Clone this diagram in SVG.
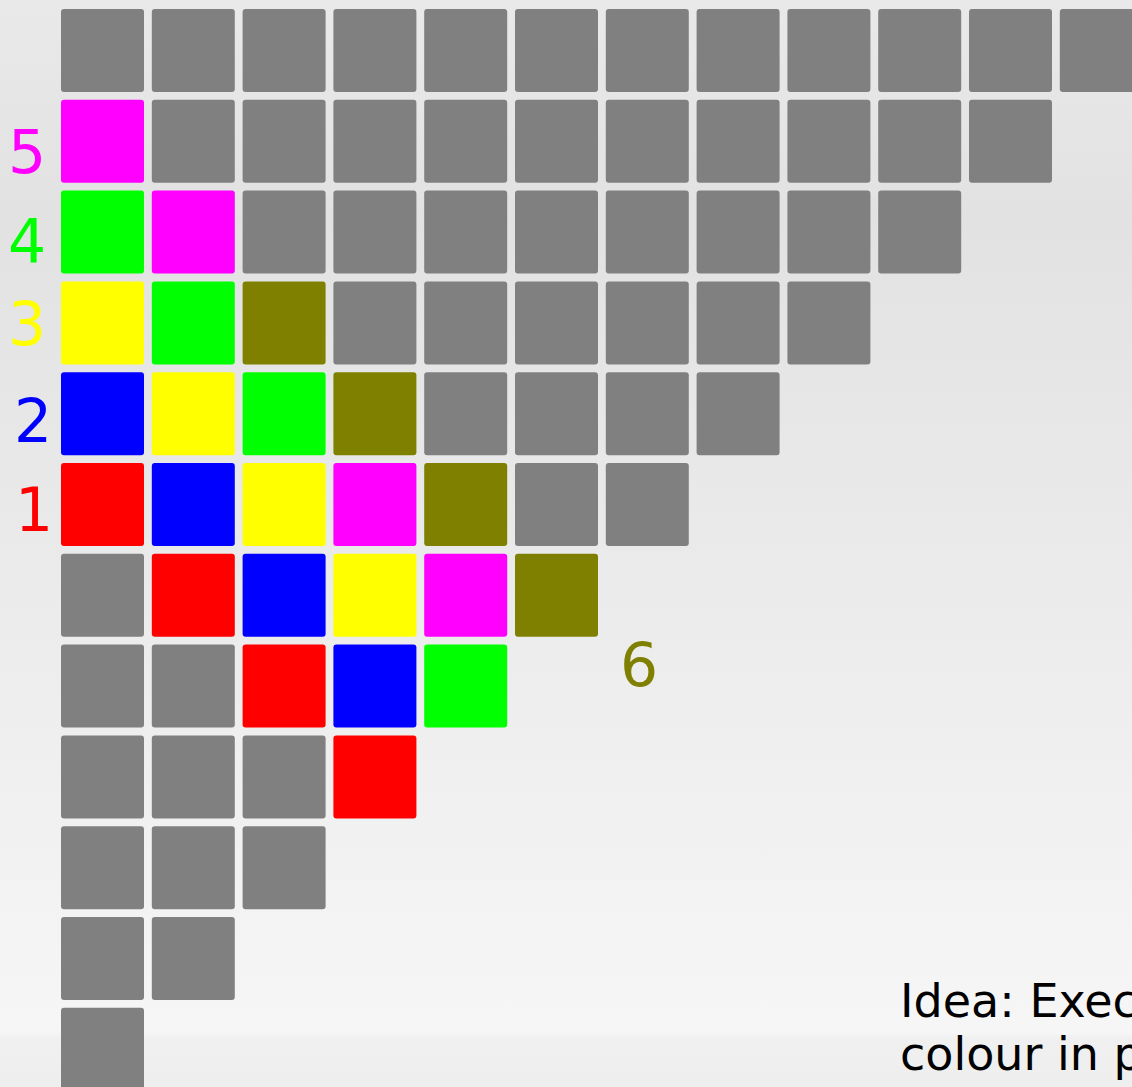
<svg xmlns="http://www.w3.org/2000/svg" width="1132" height="1087" viewBox="0 0 1132 1087">
<defs>
<linearGradient id="bg" x1="0" y1="0" x2="0" y2="1">
<stop offset="0" stop-color="#e9e9e9"/>
<stop offset="0.2" stop-color="#e2e2e2"/>
<stop offset="0.95" stop-color="#f6f6f6"/>
<stop offset="0.955" stop-color="#f0f0f0"/>
<stop offset="1" stop-color="#eeeeee"/>
</linearGradient>
<style>
rect.c{width:83px;height:83px}
.g{fill:#808080}.m{fill:#ff00ff}.n{fill:#00ff00}.y{fill:#ffff00}.o{fill:#808000}.b{fill:#0000ff}.r{fill:#ff0000}
text{font-family:"DejaVu Sans","Liberation Sans",sans-serif}
.lab{font-size:60px;text-anchor:middle}
.note{font-size:46px;fill:#000}
</style>
</defs>
<rect width="1132" height="1087" fill="url(#bg)"/>
<g id="grid">
<!-- row 0 -->
<g id="row0">
<rect class="c g" x="61" y="9" width="83" height="83" rx="3"/>
<rect class="c g" x="151.8" y="9" width="83" height="83" rx="3"/>
<rect class="c g" x="242.6" y="9" width="83" height="83" rx="3"/>
<rect class="c g" x="333.4" y="9" width="83" height="83" rx="3"/>
<rect class="c g" x="424.2" y="9" width="83" height="83" rx="3"/>
<rect class="c g" x="515" y="9" width="83" height="83" rx="3"/>
<rect class="c g" x="605.8" y="9" width="83" height="83" rx="3"/>
<rect class="c g" x="696.6" y="9" width="83" height="83" rx="3"/>
<rect class="c g" x="787.4" y="9" width="83" height="83" rx="3"/>
<rect class="c g" x="878.2" y="9" width="83" height="83" rx="3"/>
<rect class="c g" x="969" y="9" width="83" height="83" rx="3"/>
<rect class="c g" x="1059.8" y="9" width="83" height="83" rx="3"/>
</g>
<g id="row1">
<rect class="c m" x="61" y="99.8" width="83" height="83" rx="3"/>
<rect class="c g" x="151.8" y="99.8" width="83" height="83" rx="3"/>
<rect class="c g" x="242.6" y="99.8" width="83" height="83" rx="3"/>
<rect class="c g" x="333.4" y="99.8" width="83" height="83" rx="3"/>
<rect class="c g" x="424.2" y="99.8" width="83" height="83" rx="3"/>
<rect class="c g" x="515" y="99.8" width="83" height="83" rx="3"/>
<rect class="c g" x="605.8" y="99.8" width="83" height="83" rx="3"/>
<rect class="c g" x="696.6" y="99.8" width="83" height="83" rx="3"/>
<rect class="c g" x="787.4" y="99.8" width="83" height="83" rx="3"/>
<rect class="c g" x="878.2" y="99.8" width="83" height="83" rx="3"/>
<rect class="c g" x="969" y="99.8" width="83" height="83" rx="3"/>
</g>
<g id="row2">
<rect class="c n" x="61" y="190.6" width="83" height="83" rx="3"/>
<rect class="c m" x="151.8" y="190.6" width="83" height="83" rx="3"/>
<rect class="c g" x="242.6" y="190.6" width="83" height="83" rx="3"/>
<rect class="c g" x="333.4" y="190.6" width="83" height="83" rx="3"/>
<rect class="c g" x="424.2" y="190.6" width="83" height="83" rx="3"/>
<rect class="c g" x="515" y="190.6" width="83" height="83" rx="3"/>
<rect class="c g" x="605.8" y="190.6" width="83" height="83" rx="3"/>
<rect class="c g" x="696.6" y="190.6" width="83" height="83" rx="3"/>
<rect class="c g" x="787.4" y="190.6" width="83" height="83" rx="3"/>
<rect class="c g" x="878.2" y="190.6" width="83" height="83" rx="3"/>
</g>
<g id="row3">
<rect class="c y" x="61" y="281.4" width="83" height="83" rx="3"/>
<rect class="c n" x="151.8" y="281.4" width="83" height="83" rx="3"/>
<rect class="c o" x="242.6" y="281.4" width="83" height="83" rx="3"/>
<rect class="c g" x="333.4" y="281.4" width="83" height="83" rx="3"/>
<rect class="c g" x="424.2" y="281.4" width="83" height="83" rx="3"/>
<rect class="c g" x="515" y="281.4" width="83" height="83" rx="3"/>
<rect class="c g" x="605.8" y="281.4" width="83" height="83" rx="3"/>
<rect class="c g" x="696.6" y="281.4" width="83" height="83" rx="3"/>
<rect class="c g" x="787.4" y="281.4" width="83" height="83" rx="3"/>
</g>
<g id="row4">
<rect class="c b" x="61" y="372.2" width="83" height="83" rx="3"/>
<rect class="c y" x="151.8" y="372.2" width="83" height="83" rx="3"/>
<rect class="c n" x="242.6" y="372.2" width="83" height="83" rx="3"/>
<rect class="c o" x="333.4" y="372.2" width="83" height="83" rx="3"/>
<rect class="c g" x="424.2" y="372.2" width="83" height="83" rx="3"/>
<rect class="c g" x="515" y="372.2" width="83" height="83" rx="3"/>
<rect class="c g" x="605.8" y="372.2" width="83" height="83" rx="3"/>
<rect class="c g" x="696.6" y="372.2" width="83" height="83" rx="3"/>
</g>
<g id="row5">
<rect class="c r" x="61" y="463" width="83" height="83" rx="3"/>
<rect class="c b" x="151.8" y="463" width="83" height="83" rx="3"/>
<rect class="c y" x="242.6" y="463" width="83" height="83" rx="3"/>
<rect class="c m" x="333.4" y="463" width="83" height="83" rx="3"/>
<rect class="c o" x="424.2" y="463" width="83" height="83" rx="3"/>
<rect class="c g" x="515" y="463" width="83" height="83" rx="3"/>
<rect class="c g" x="605.8" y="463" width="83" height="83" rx="3"/>
</g>
<g id="row6">
<rect class="c g" x="61" y="553.8" width="83" height="83" rx="3"/>
<rect class="c r" x="151.8" y="553.8" width="83" height="83" rx="3"/>
<rect class="c b" x="242.6" y="553.8" width="83" height="83" rx="3"/>
<rect class="c y" x="333.4" y="553.8" width="83" height="83" rx="3"/>
<rect class="c m" x="424.2" y="553.8" width="83" height="83" rx="3"/>
<rect class="c o" x="515" y="553.8" width="83" height="83" rx="3"/>
</g>
<g id="row7">
<rect class="c g" x="61" y="644.6" width="83" height="83" rx="3"/>
<rect class="c g" x="151.8" y="644.6" width="83" height="83" rx="3"/>
<rect class="c r" x="242.6" y="644.6" width="83" height="83" rx="3"/>
<rect class="c b" x="333.4" y="644.6" width="83" height="83" rx="3"/>
<rect class="c n" x="424.2" y="644.6" width="83" height="83" rx="3"/>
</g>
<g id="row8">
<rect class="c g" x="61" y="735.4" width="83" height="83" rx="3"/>
<rect class="c g" x="151.8" y="735.4" width="83" height="83" rx="3"/>
<rect class="c g" x="242.6" y="735.4" width="83" height="83" rx="3"/>
<rect class="c r" x="333.4" y="735.4" width="83" height="83" rx="3"/>
</g>
<g id="row9">
<rect class="c g" x="61" y="826.2" width="83" height="83" rx="3"/>
<rect class="c g" x="151.8" y="826.2" width="83" height="83" rx="3"/>
<rect class="c g" x="242.6" y="826.2" width="83" height="83" rx="3"/>
</g>
<g id="row10">
<rect class="c g" x="61" y="917" width="83" height="83" rx="3"/>
<rect class="c g" x="151.8" y="917" width="83" height="83" rx="3"/>
</g>
<g id="row11">
<rect class="c g" x="61" y="1007.8" width="83" height="83" rx="3"/>
</g>
</g>
<g id="labels">
<text class="lab" x="27" y="173" fill="#ff00ff">5</text>
<text class="lab" x="27" y="262" fill="#00ff00">4</text>
<text class="lab" x="27" y="345" fill="#ffff00">3</text>
<text class="lab" x="33" y="442" fill="#0000ff">2</text>
<text class="lab" x="34" y="531" fill="#ff0000">1</text>
<text class="lab" x="639" y="686" fill="#808000">6</text>
</g>
<g id="note">
<text class="note" x="900" y="1017">Idea: Exec</text>
<text class="note" x="900" y="1070">colour in p</text>
</g>
</svg>
